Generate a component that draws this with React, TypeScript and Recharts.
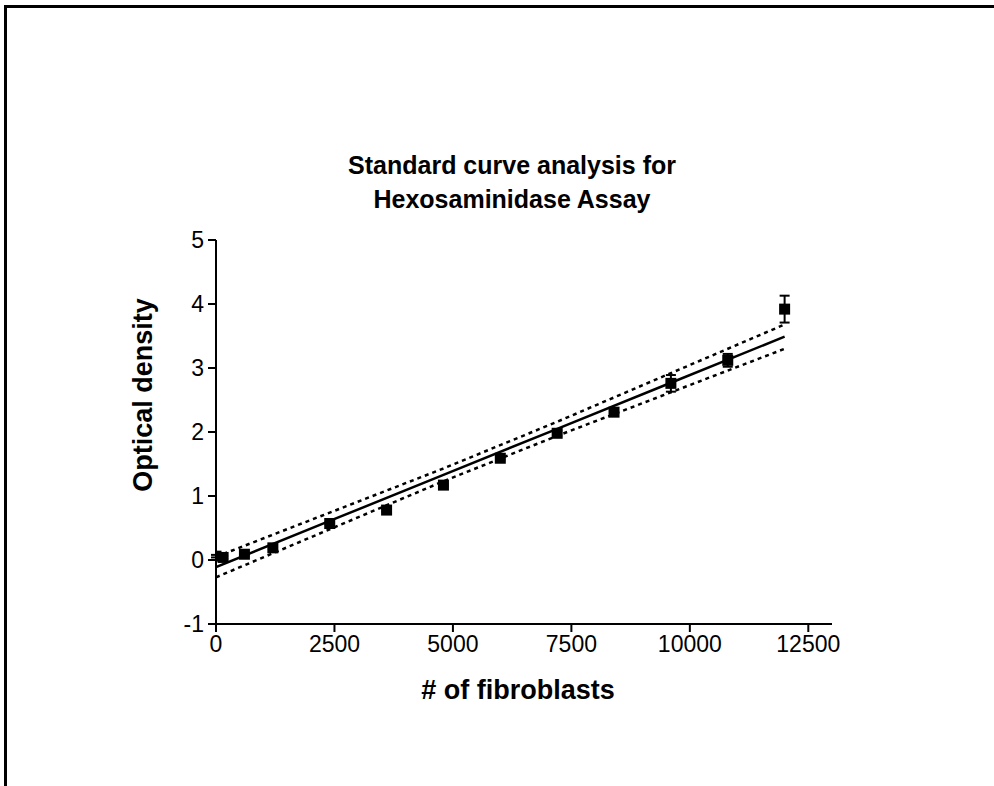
import React from "react";
import {
  ComposedChart,
  Line,
  Scatter,
  XAxis,
  YAxis,
  ZAxis,
  ErrorBar,
} from "recharts";

// Measured standards
const cellCounts = [0, 150, 600, 1200, 2400, 3600, 4800, 6000, 7200, 8400, 9600, 10800, 12000];
const opticalDensity = [0.06, 0.04, 0.09, 0.19, 0.57, 0.78, 1.17, 1.59, 1.98, 2.31, 2.76, 3.12, 3.92];
const odError = [0.02, 0.02, 0.02, 0.02, 0.02, 0.02, 0.02, 0.02, 0.04, 0.02, 0.13, 0.1, 0.21];

// Linear fit and 95% confidence band
const fitX = [0, 2400, 4800, 7200, 9600, 12000];
const fitY = [-0.11, 0.61, 1.33, 2.05, 2.77, 3.49];
const bandUpper = [0.05, 0.74, 1.43, 2.16, 2.92, 3.68];
const bandLower = [-0.27, 0.48, 1.23, 1.94, 2.62, 3.3];

const xTicks = [0, 2500, 5000, 7500, 10000, 12500];
const yTicks = [-1, 0, 1, 2, 3, 4, 5];

const points = cellCounts.map((x, i) => ({ x, y: opticalDensity[i], err: odError[i] }));
const fitData = fitX.map((x, i) => ({ x, y: fitY[i] }));
const upperData = fitX.map((x, i) => ({ x, y: bandUpper[i] }));
const lowerData = fitX.map((x, i) => ({ x, y: bandLower[i] }));

const FONT = "'Liberation Sans', Arial, sans-serif";

const SquareShape = (props: any) => {
  const { cx, cy } = props;
  if (cx == null || cy == null) return null;
  const s = 11;
  return <rect x={cx - s / 2} y={cy - s / 2} width={s} height={s} fill="#000" />;
};

export default function App() {
  return (
    <div
      style={{
        position: "absolute",
        left: 0,
        top: 0,
        width: 994,
        height: 786,
        background: "#fff",
        fontFamily: FONT,
        overflow: "hidden",
      }}
    >
      <div
        style={{
          position: "absolute",
          left: 4,
          top: 5,
          width: 1000,
          height: 800,
          borderTop: "3px solid #000",
          borderLeft: "3px solid #000",
        }}
      />
      <div
        style={{
          position: "absolute",
          left: 262,
          width: 500,
          top: 148,
          textAlign: "center",
          fontWeight: "bold",
          fontSize: 25,
          lineHeight: "34px",
          color: "#000",
        }}
      >
        Standard curve analysis for
        <br />
        Hexosaminidase Assay
      </div>
      <div
        style={{
          position: "absolute",
          left: 143 - 150,
          top: 395 - 18,
          width: 300,
          height: 36,
          lineHeight: "36px",
          textAlign: "center",
          fontWeight: "bold",
          fontSize: 27,
          transform: "rotate(-90deg)",
          color: "#000",
        }}
      >
        Optical density
      </div>
      <div
        style={{
          position: "absolute",
          left: 518 - 200,
          top: 690 - 18,
          width: 400,
          height: 36,
          lineHeight: "36px",
          textAlign: "center",
          fontWeight: "bold",
          fontSize: 27,
          color: "#000",
        }}
      >
        # of fibroblasts
      </div>
      <div style={{ position: "absolute", left: 0, top: 0 }}>
        <ComposedChart
          width={994}
          height={786}
          margin={{ top: 240, right: 162, bottom: 122, left: 156 }}
        >
          <XAxis
            type="number"
            dataKey="x"
            domain={[0, 13000]}
            ticks={xTicks}
            allowDataOverflow
            height={40}
            tickSize={8}
            tickMargin={4}
            axisLine={{ stroke: "#000", strokeWidth: 2 }}
            tickLine={{ stroke: "#000", strokeWidth: 2 }}
            tick={{ fill: "#000", fontSize: 23, fontFamily: FONT }}
          />
          <YAxis
            type="number"
            dataKey="y"
            domain={[-1, 5]}
            ticks={yTicks}
            allowDataOverflow
            width={60}
            tickSize={8}
            tickMargin={4}
            axisLine={{ stroke: "#000", strokeWidth: 2 }}
            tickLine={{ stroke: "#000", strokeWidth: 2 }}
            tick={{ fill: "#000", fontSize: 23, fontFamily: FONT }}
          />
          <ZAxis range={[120, 120]} />
          <Line
            data={upperData}
            dataKey="y"
            type="linear"
            stroke="#000"
            strokeWidth={2.5}
            strokeDasharray="4 4"
            dot={false}
            activeDot={false}
            isAnimationActive={false}
          />
          <Line
            data={lowerData}
            dataKey="y"
            type="linear"
            stroke="#000"
            strokeWidth={2.5}
            strokeDasharray="4 4"
            dot={false}
            activeDot={false}
            isAnimationActive={false}
          />
          <Line
            data={fitData}
            dataKey="y"
            type="linear"
            stroke="#000"
            strokeWidth={2.5}
            dot={false}
            activeDot={false}
            isAnimationActive={false}
          />
          <Scatter
            data={points}
            dataKey="y"
            shape={SquareShape}
            isAnimationActive={false}
          >
            <ErrorBar dataKey="err" direction="y" width={5} stroke="#000" strokeWidth={2} />
          </Scatter>
        </ComposedChart>
      </div>
    </div>
  );
}
